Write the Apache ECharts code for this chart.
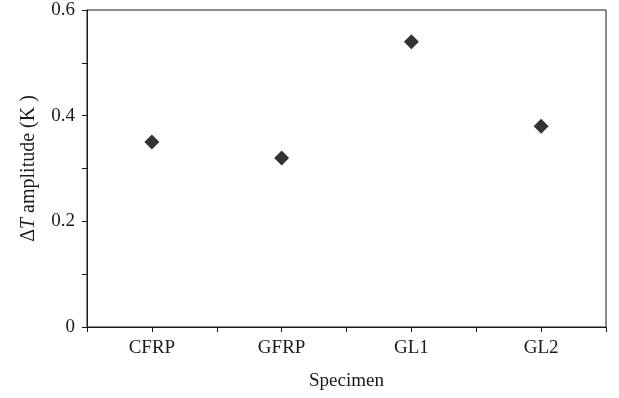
<!DOCTYPE html>
<html><head><meta charset="utf-8">
<script src="https://cdn.jsdelivr.net/npm/echarts@6/dist/echarts.min.js"></script>
<style>html,body{margin:0;padding:0;background:#fff}#c{width:619px;height:398px}</style>
</head><body><div id="c"></div>
<script>
var categories = ['CFRP', 'GFRP', 'GL1', 'GL2'];
var amplitudes = [0.35, 0.32, 0.54, 0.38];
var yTicks = [0, 0.2, 0.4, 0.6];

var font = 'Liberation Serif';
var fs = 19;
var lineColor = '#1a1a1a';
var chart = echarts.init(document.getElementById('c'));
chart.setOption({
  animation: false,
  backgroundColor: '#fff',
  grid: {left: 87, right: 13, top: 10, bottom: 71, show: true, borderColor: lineColor, borderWidth: 1, backgroundColor: 'transparent'},
  xAxis: [{
    type: 'category', data: categories, boundaryGap: true,
    axisLine: {lineStyle: {color: lineColor, width: 1}},
    axisTick: {show: true, alignWithLabel: false, length: 5, lineStyle: {color: lineColor}},
    axisLabel: {color: '#1a1a1a', fontFamily: font, fontSize: fs, margin: 12},
    name: 'Specimen', nameLocation: 'middle', nameGap: 45,
    nameTextStyle: {color: '#1a1a1a', fontFamily: font, fontSize: fs}
  }, {
    type: 'category', data: categories, boundaryGap: true, position: 'bottom',
    axisLine: {show: false},
    axisTick: {show: true, alignWithLabel: true, length: 5, lineStyle: {color: lineColor}},
    axisLabel: {show: false}
  }],
  yAxis: {
    type: 'value', min: 0, max: 0.6, interval: 0.2,
    axisLine: {show: true, lineStyle: {color: lineColor, width: 1}},
    axisTick: {show: true, length: 5, lineStyle: {color: lineColor}},
    minorTick: {show: true, splitNumber: 2, length: 5, lineStyle: {color: lineColor}},
    splitLine: {show: false},
    axisLabel: {color: '#1a1a1a', fontFamily: font, fontSize: fs, margin: 12,
      formatter: function (v) { var i = yTicks.indexOf(Math.round(v * 10) / 10); return i >= 0 ? String(yTicks[i]) : ''; }},
    name: '{a|Δ}{b|T}{a| amplitude (K )}', nameLocation: 'middle', nameGap: 48, nameRotate: 90,
    nameTextStyle: {color: '#1a1a1a', fontFamily: font, fontSize: 20,
      rich: {a: {fontFamily: font, fontSize: 20, color: '#1a1a1a'}, b: {fontFamily: font, fontSize: 20, fontStyle: 'italic', color: '#1a1a1a'}}}
  },
  series: [{
    type: 'scatter', xAxisIndex: 0, data: amplitudes,
    symbol: 'diamond', symbolSize: 15,
    itemStyle: {color: '#000'}
  }]
});
</script></body></html>
